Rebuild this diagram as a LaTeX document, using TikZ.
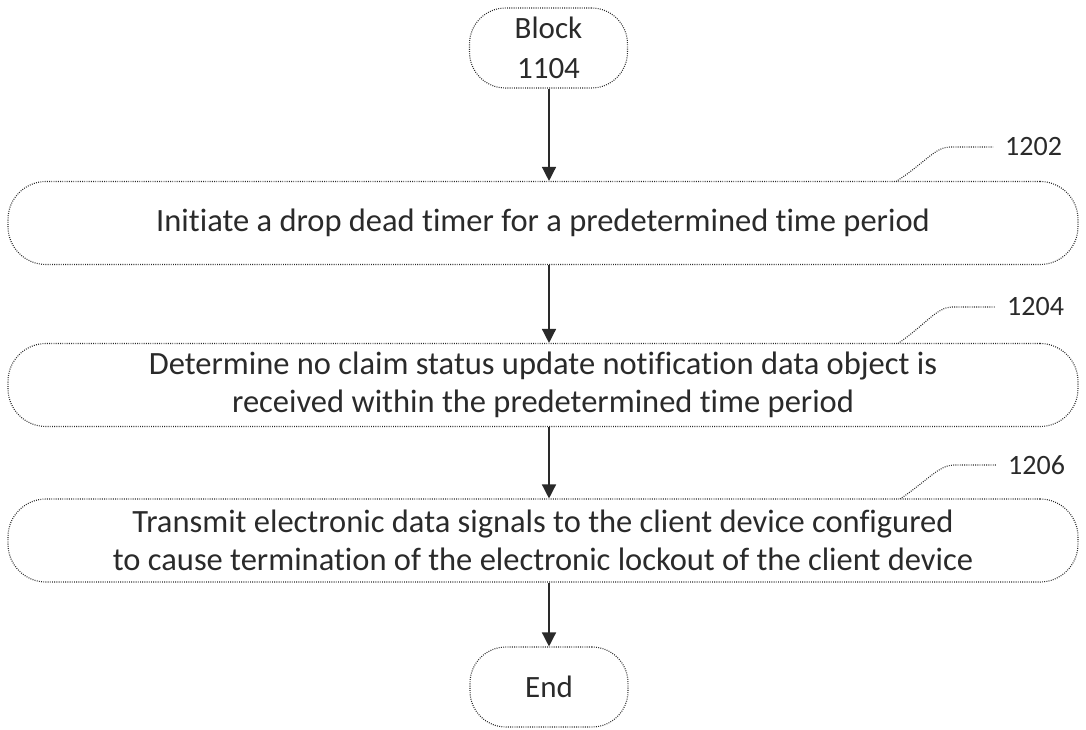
\documentclass[tikz,border=0pt]{standalone}
\usepackage{fontspec}
\setmainfont{Carlito}[Ligatures=NoCommon]
\usetikzlibrary{arrows.meta}
\definecolor{ink}{HTML}{2A2A2A}
\tikzset{
  dotline/.style={draw=ink, line width=1.1pt, dash pattern=on 0.9pt off 1.3pt},
  flowbox/.style={dotline, rounded corners=38pt,
    minimum width=1070pt, minimum height=83pt, align=center, text=ink,
    font=\fontsize{32.5}{38}\selectfont, inner sep=0pt},
  termbox/.style={dotline, rounded corners=36pt,
    minimum width=158pt, minimum height=80pt, align=center, text=ink,
    font=\fontsize{31}{40}\selectfont, inner sep=0pt},
  flowarrow/.style={draw=ink, line width=1.4pt, -{Triangle[length=14pt,width=14pt]}},
  leader/.style={draw=ink, line width=1.1pt, dash pattern=on 0.9pt off 1.3pt},
  reflabel/.style={text=ink, font=\fontsize{28}{30}\selectfont, inner sep=0pt, anchor=west}
}
\begin{document}
\begin{tikzpicture}[x=1pt,y=-1pt]
\useasboundingbox (0,0) rectangle (1086,730);
\node[termbox] (start) at (548.5,48) {Block\\1104};
\node[flowbox] (b1202) at (543,223) {Initiate a drop dead timer for a predetermined time period};
\node[flowbox] (b1204) at (543,385) {Determine no claim status update notification data object is\\received within the predetermined time period};
\node[flowbox] (b1206) at (543,540.5) {Transmit electronic data signals to the client device configured\\to cause termination of the electronic lockout of the client device};
\node[termbox] (end) at (549,687) {End};
\draw[flowarrow] (start.south -| 549,0) -- (b1202.north -| 549,0);
\draw[flowarrow] (b1202.south -| 549,0) -- (b1204.north -| 549,0);
\draw[flowarrow] (b1204.south -| 549,0) -- (b1206.north -| 549,0);
\draw[flowarrow] (b1206.south -| 549,0) -- (end.north -| 549,0);
\node[reflabel] (l1202) at (1005,147) {1202};
\node[reflabel] (l1204) at (1007,307) {1204};
\node[reflabel] (l1206) at (1008,465) {1206};
\coordinate (s1202) at (896,181.5);
\coordinate (s1204) at (898,343.5);
\coordinate (s1206) at (900,499);
\draw[leader] (s1202) .. controls (925,163) and (935,147) .. (950,147) -- ([xshift=-12pt]l1202.west);
\draw[leader] (s1204) .. controls (925,325) and (937,307) .. (952,307) -- ([xshift=-12pt]l1204.west);
\draw[leader] (s1206) .. controls (927,481) and (939,465) .. (954,465) -- ([xshift=-12pt]l1206.west);
\end{tikzpicture}
\end{document}
